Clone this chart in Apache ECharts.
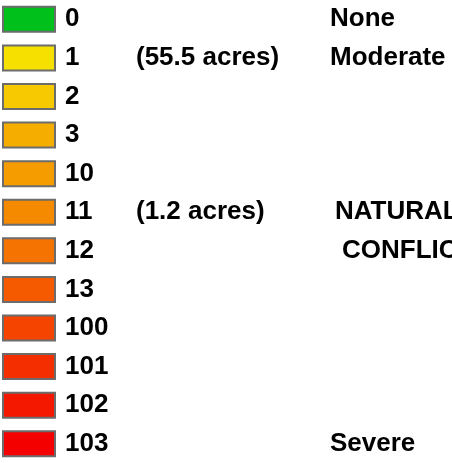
<!DOCTYPE html>
<html><head><meta charset="utf-8">
<script src="https://cdn.jsdelivr.net/npm/echarts@6/dist/echarts.min.js"></script>
<style>html,body{margin:0;padding:0;background:#fff}#c{width:452px;height:463px}</style>
</head><body><div id="c"></div>
<script>
var codes = ['0','1','2','3','10','11','12','13','100','101','102','103'];
var colors = ['#00c01c','#f5e000','#f7c900','#f5ae00','#f59d00','#f58a00','#f57300','#f55a00','#f54400','#f52e00','#f51800','#f50000'];
var areas = ['','(55.5 acres)','','','','(1.2 acres)','','','','','',''];
var severity = ['None','Moderate','','','','NATURAL','CONFLICT','','','','','Severe'];

var sevX = {5: 335, 6: 342};
var chart = echarts.init(document.getElementById('c'), null, {renderer:'canvas'});
var font = 'bold 26px "Liberation Sans", Arial, sans-serif';
chart.setOption({
  animation:false,
  grid:{left:0,right:0,top:-2,bottom:-3.5},
  xAxis:{type:'value',min:0,max:452,show:false},
  yAxis:{type:'category',data:codes,inverse:true,show:false},
  series:[{
    type:'custom',
    data: codes.map(function(c,i){return [0,i];}),
    renderItem:function(params,api){
      var i = params.dataIndex;
      var p = api.coord([0,i]);
      var cy = p[1];
      var ch = [
        {type:'rect',shape:{x:3,y:cy-12.5,width:52,height:25},style:{fill:colors[i],stroke:'#6c6c6c',lineWidth:2}},
        {type:'text',style:{text:codes[i],x:65,y:cy,font:font,fill:'#000',verticalAlign:'middle'}}
      ];
      if(areas[i]) ch.push({type:'text',style:{text:areas[i],x:136,y:cy,font:font,fill:'#000',verticalAlign:'middle'}});
      if(severity[i]) ch.push({type:'text',style:{text:severity[i],x:(sevX[i]||330),y:cy,font:font,fill:'#000',verticalAlign:'middle'}});
      return {type:'group',children:ch};
    }
  }]
});
</script></body></html>
